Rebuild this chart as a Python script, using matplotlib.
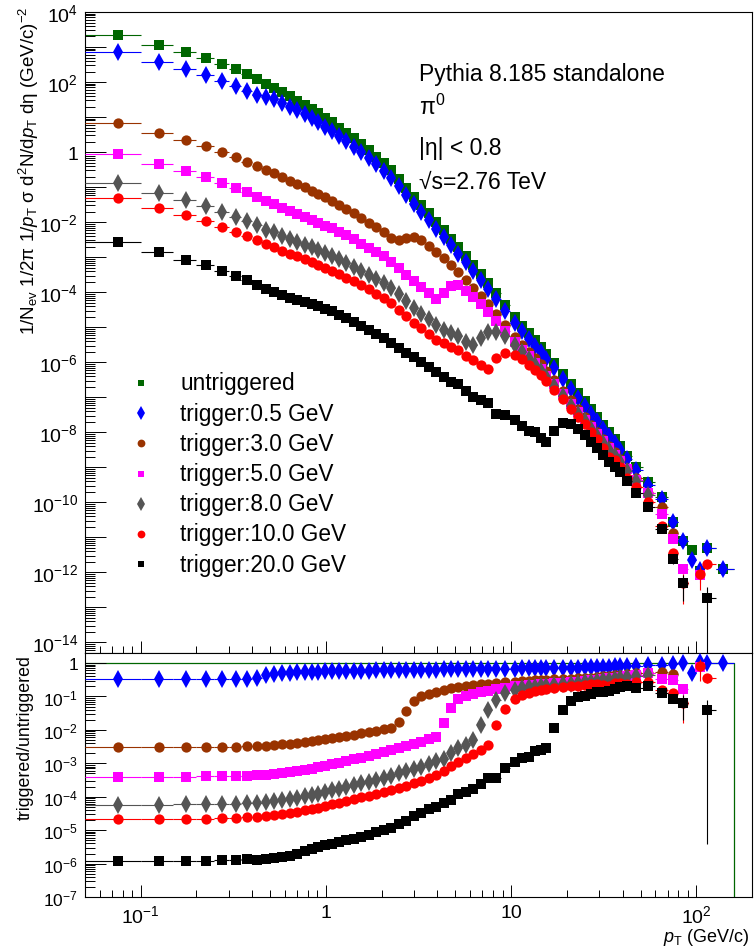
import numpy as np
import matplotlib
matplotlib.use('Agg')
import matplotlib.pyplot as plt
from matplotlib.ticker import LogLocator, NullFormatter, FuncFormatter
from matplotlib.lines import Line2D

plt.rcParams['font.family'] = ['Liberation Sans', 'DejaVu Sans']
plt.rcParams['mathtext.fontset'] = 'custom'
plt.rcParams['mathtext.rm'] = 'Liberation Sans'
plt.rcParams['mathtext.it'] = 'Liberation Sans:italic'
plt.rcParams['mathtext.sf'] = 'Liberation Sans'
plt.rcParams['mathtext.bf'] = 'Liberation Sans:bold'

nan = np.nan

# pT bin centres (GeV/c)
pt = [0.075, 0.125, 0.175, 0.225, 0.275, 0.325, 0.375, 0.425, 0.475, 0.525,
      0.58, 0.64, 0.70, 0.77, 0.84, 0.91, 0.99, 1.08, 1.18, 1.29,
      1.41, 1.55, 1.70, 1.87, 2.05, 2.25, 2.47, 2.72, 2.99, 3.28,
      3.6, 3.95, 4.33, 4.75, 5.2, 5.7, 6.25, 6.85, 7.5, 8.3,
      9.25, 10.5, 11.5, 12.5, 13.5, 14.5, 15.5, 17, 19, 21,
      23, 25, 27, 29, 31.25, 33.75, 36.25, 38.75, 42.5, 47.5,
      55, 65, 75, 85, 95, 105, 115, 140]
pt_first_edge = 0.05
pt_last_edge = 160

# untriggered spectrum, log10 of the yield
untrig_log = [3.35, 3.07, 2.86, 2.69, 2.51, 2.36, 2.22, 2.09, 1.95, 1.84,
              1.71, 1.59, 1.47, 1.35, 1.23, 1.11, 0.98, 0.85, 0.70, 0.55,
              0.39, 0.22, 0.05, -0.13, -0.31, -0.52, -0.76, -1.02, -1.27, -1.51,
              -1.75, -1.99, -2.23, -2.47, -2.71, -2.96, -3.21, -3.47, -3.73, -4.03,
              -4.36, -4.71, -4.96, -5.17, -5.37, -5.55, -5.75, -6.02, -6.33, -6.62,
              -6.87, -7.11, -7.34, -7.56, -7.78, -8.00, -8.20, -8.40, -8.68, -9.00,
              -9.43, -9.86, -10.55, -11.10, -11.35, -11.95, -11.31, -11.89]

# triggered/untriggered ratios, log10
r05 = [-0.49, -0.49, -0.49, -0.48, -0.48, -0.47, -0.47, -0.45, -0.37, -0.33,
       -0.30, -0.29, -0.28, -0.27, -0.27, -0.26, -0.25, -0.25, -0.24, -0.24,
       -0.23, -0.23, -0.23, -0.22, -0.22, -0.22, -0.21, -0.21, -0.21, -0.20,
       -0.20, -0.20, -0.19, -0.19, -0.19, -0.18, -0.18, -0.18, -0.18, -0.17,
       -0.17, -0.17, -0.16, -0.16, -0.16, -0.16, -0.15, -0.15, -0.15, -0.14,
       -0.14, -0.13, -0.13, -0.12, -0.12, -0.11, -0.10, -0.10, -0.09, -0.08,
       -0.07, -0.05, -0.02, 0.00, -0.29, 0.02, 0.00, 0.00]
r3 = [-2.52, -2.52, -2.51, -2.51, -2.50, -2.50, -2.49, -2.48, -2.47, -2.45,
      -2.43, -2.41, -2.39, -2.36, -2.33, -2.30, -2.27, -2.24, -2.21, -2.17,
      -2.14, -2.10, -2.06, -2.02, -1.98, -1.93, -1.75, -1.42, -1.15, -1.00,
      -0.92, -0.86, -0.80, -0.75, -0.71, -0.68, -0.66, -0.64, -0.62, -0.60,
      -0.58, -0.56, -0.54, -0.53, -0.52, -0.51, -0.50, -0.49, -0.48, -0.47,
      -0.46, -0.45, -0.44, -0.42, -0.40, -0.38, -0.37, -0.35, -0.33, -0.31,
      -0.30, -0.28, -0.32, nan, nan, nan, nan, nan]
r5 = [-3.40, -3.40, -3.40, -3.39, -3.39, -3.38, -3.37, -3.36, -3.34, -3.32,
      -3.30, -3.27, -3.24, -3.20, -3.16, -3.12, -3.08, -3.03, -2.98, -2.93,
      -2.88, -2.83, -2.78, -2.73, -2.67, -2.61, -2.55, -2.49, -2.42, -2.35,
      -2.28, -2.20, -1.78, -1.34, -1.07, -1.00, -0.94, -0.88, -0.83, -0.78,
      -0.74, -0.70, -0.68, -0.66, -0.65, -0.64, -0.63, -0.61, -0.59, -0.57,
      -0.56, -0.54, -0.52, -0.50, -0.48, -0.46, -0.44, -0.42, -0.38, -0.35,
      -0.29, -0.47, -0.50, -0.79, nan, -0.12, nan, nan]
r8 = [-4.24, -4.24, -4.23, -4.23, -4.22, -4.21, -4.20, -4.18, -4.16, -4.13,
      -4.10, -4.07, -4.03, -3.99, -3.95, -3.91, -3.86, -3.81, -3.76, -3.71,
      -3.66, -3.60, -3.55, -3.49, -3.43, -3.37, -3.30, -3.24, -3.17, -3.10,
      -3.02, -2.94, -2.86, -2.70, -2.55, -2.45, -2.30, -1.85, -1.40, -1.10,
      -0.90, -0.80, -0.76, -0.73, -0.71, -0.69, -0.68, -0.66, -0.64, -0.62,
      -0.60, -0.58, -0.56, -0.54, -0.52, -0.50, -0.47, -0.45, -0.42, -0.39,
      -0.35, nan, nan, nan, nan, nan, nan, nan]
r10 = [-4.67, -4.67, -4.66, -4.66, -4.65, -4.64, -4.62, -4.60, -4.58, -4.55,
       -4.52, -4.49, -4.45, -4.41, -4.37, -4.33, -4.28, -4.23, -4.18, -4.13,
       -4.08, -4.02, -3.97, -3.91, -3.86, -3.80, -3.74, -3.67, -3.60, -3.52,
       -3.44, -3.36, -3.22, -3.08, -2.95, -2.85, -2.72, -2.60, -2.45, -1.85,
       -1.38, -1.07, -0.96, -0.90, -0.85, -0.82, -0.79, -0.76, -0.73, -0.70,
       -0.68, -0.66, -0.64, -0.62, -0.67, -0.70, -0.60, -0.60, -0.63, -0.57,
       -0.57, -0.82, -0.90, -1.20, nan, -0.09, -0.45, nan]
r20 = [-5.91, -5.91, -5.93, -5.91, -5.90, -5.90, -5.87, -5.88, -5.87, -5.84,
       -5.80, -5.76, -5.70, -5.62, -5.56, -5.50, -5.45, -5.40, -5.35, -5.30,
       -5.25, -5.19, -5.13, -5.07, -5.00, -4.93, -4.82, -4.72, -4.58, -4.48,
       -4.38, -4.30, -4.18, -4.10, -3.92, -3.87, -3.78, -3.62, -3.43, -3.44,
       -3.15, -2.95, -2.85, -2.80, -2.62, -2.60, -2.54, -1.95, -1.40, -1.13,
       -1.03, -0.98, -0.93, -0.88, -0.86, -0.84, -0.78, -0.73, -0.70, -0.74,
       -0.70, -0.90, -1.07, -1.19, nan, nan, -1.41, nan]

# relative statistical errors for the sparse high-pT bins (bin index: error)
err_untrig = {65: 0.2, 66: 0.2, 67: 0.2}
err_05 = {64: 0.25, 65: 0.2, 66: 0.2, 67: 0.2}
err_3 = {}
err_5 = {63: 0.3, 65: 0.4}
err_8 = {}
err_10 = {63: 0.75, 65: 0.65, 66: 0.3}
err_20 = {61: 0.2, 62: 0.25, 63: 0.7, 66: 1.0}

labels = ['untriggered', 'trigger:0.5 GeV', 'trigger:3.0 GeV', 'trigger:5.0 GeV',
          'trigger:8.0 GeV', 'trigger:10.0 GeV', 'trigger:20.0 GeV']
colors = ['#006600', '#0000ff', '#993300', '#ff00ff', '#555555', '#ff0000', '#000000']
markers = ['s', 'd', 'o', 's', 'd', 'o', 's']
msizes = [7.0, 9.0, 7.4, 7.0, 9.0, 7.4, 7.0]
leg_sizes = [5.0, 7.0, 5.6, 5.0, 7.0, 5.6, 5.0]

x = np.array(pt)
mid = (x[1:] + x[:-1]) / 2
left_edge = np.concatenate([[pt_first_edge], mid])
right_edge = np.concatenate([mid, [pt_last_edge]])
xerr = [x - left_edge, right_edge - x]

untrig = 10 ** np.array(untrig_log)
ratios = [np.zeros(len(pt))] + [np.array(r, dtype=float) for r in (r05, r3, r5, r8, r10, r20)]
errs = [err_untrig, err_05, err_3, err_5, err_8, err_10, err_20]

fig = plt.figure(figsize=(7.55, 9.53), dpi=100)
W, H = 755, 953
L, R = 85, 752
ax1 = fig.add_axes([L / W, 1 - 654 / H, (R - L) / W, (654 - 13) / H])
ax2 = fig.add_axes([L / W, 1 - 898 / H, (R - L) / W, (898 - 654) / H])


def rel_err(e, vals):
    out = np.zeros(len(vals))
    for i, v in e.items():
        out[i] = v
    lo = np.minimum(out, 0.9999) * vals
    hi = out * vals
    return [lo, hi]


for i in range(7):
    spec = untrig * 10 ** ratios[i]
    ax1.errorbar(x, spec, xerr=xerr, yerr=rel_err(errs[i], spec), fmt=markers[i],
                 color=colors[i], ms=msizes[i], mew=0, elinewidth=0.8, capsize=0, zorder=2 + i)
    if i > 0:
        rat = 10 ** ratios[i]
        ax2.errorbar(x, rat, xerr=xerr, yerr=rel_err(errs[i], rat), fmt=markers[i],
                     color=colors[i], ms=msizes[i], mew=0, elinewidth=0.8, capsize=0, zorder=2 + i)

# untriggered / untriggered drawn as a histogram line
ax2.plot([pt_first_edge, pt_last_edge, pt_last_edge], [1, 1, 1e-9], color=colors[0], lw=0.9, zorder=1)

for ax in (ax1, ax2):
    ax.set_xscale('log')
    ax.set_yscale('log')
    ax.set_xlim(0.05, 200)
    ax.xaxis.set_major_locator(LogLocator(base=10, numticks=10))
    ax.xaxis.set_minor_locator(LogLocator(base=10, subs=np.arange(2, 10), numticks=20))
    ax.yaxis.set_major_locator(LogLocator(base=10, numticks=40))
    ax.yaxis.set_minor_locator(LogLocator(base=10, subs=np.arange(2, 10), numticks=40))
    ax.yaxis.set_minor_formatter(NullFormatter())
    ax.xaxis.set_minor_formatter(NullFormatter())
    ax.tick_params(axis='both', which='both', direction='in', top=False, right=False,
                   width=0.7, labelsize=14)
    ax.tick_params(axis='y', which='major', length=15, pad=5)
    ax.tick_params(axis='y', which='minor', length=7)
    ax.tick_params(axis='x', which='major', length=9, pad=5)
    ax.tick_params(axis='x', which='minor', length=5)
    for s in ax.spines.values():
        s.set_linewidth(0.8)

ax2.tick_params(axis='y', which='major', labelsize=12.5)

ax1.set_ylim(10 ** -14.3, 1e4)
ax2.set_ylim(1e-7, 2)


def top_fmt(v, pos):
    e = int(round(np.log10(v)))
    if e % 2:
        return ''
    return '1' if e == 0 else r'$10^{%d}$' % e


def low_fmt(v, pos):
    e = int(round(np.log10(v)))
    return '1' if e == 0 else r'$10^{%d}$' % e


def x_fmt(v, pos):
    e = int(round(np.log10(v)))
    return {0: '1', 1: '10'}.get(e, r'$10^{%d}$' % e)


ax1.yaxis.set_major_formatter(FuncFormatter(top_fmt))
ax2.yaxis.set_major_formatter(FuncFormatter(low_fmt))
ax2.xaxis.set_major_formatter(FuncFormatter(x_fmt))
ax1.xaxis.set_major_formatter(NullFormatter())

# axis titles
fig.text(29 / W, 1 - 6 / H,
         r'1/N$_{\mathrm{ev}}$ 1/2$\mathrm{\pi}$ 1/$p_{\mathrm{T}}$ $\mathrm{\sigma}$ '
         r'd$^{2}$N/d$p_{\mathrm{T}}$ d$\mathrm{\eta}$ (GeV/c)$^{-2}$',
         rotation=90, ha='center', va='top', fontsize=13.5)
fig.text(25 / W, 1 - 655 / H, 'triggered/untriggered', rotation=90, ha='center', va='top', fontsize=12.8)
fig.text(750 / W, 1 - 938 / H, r'$p_{\mathrm{T}}$ (GeV/c)', ha='right', va='center', fontsize=13)

# annotation
fig.text(419 / W, 1 - 75 / H, 'Pythia 8.185 standalone', ha='left', va='center', fontsize=16.5)
fig.text(419 / W, 1 - 107 / H, r'$\mathrm{\pi}^{0}$', ha='left', va='center', fontsize=16.5)
fig.text(419 / W, 1 - 149 / H, '|η| < 0.8', ha='left', va='center', fontsize=16.5)
fig.text(419 / W, 1 - 182 / H, '√s=2.76 TeV', ha='left', va='center', fontsize=16.5)

# legend
for k in range(7):
    yy = 1 - (384 + 30.2 * k) / H
    fig.add_artist(Line2D([141 / W], [yy], transform=fig.transFigure, marker=markers[k],
                          color=colors[k], ms=leg_sizes[k], mew=0, ls='none'))
    fig.text(180 / W, yy, labels[k], ha='left', va='center', fontsize=16.3)

fig.savefig('out.png', dpi=100)
